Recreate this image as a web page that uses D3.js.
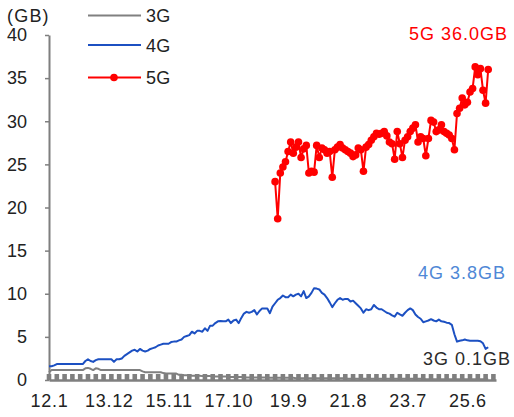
<!DOCTYPE html>
<html>
<head>
<meta charset="utf-8">
<script src="https://cdn.jsdelivr.net/npm/d3@7"></script>
<style>
  html, body { margin: 0; padding: 0; background: #fff; }
  svg { display: block; font-family: "Liberation Sans", Arial, sans-serif; }
</style>
</head>
<body>
<svg id="chart" width="514" height="417"></svg>
<script>
// Monthly mobile data usage per subscriber (GB), from 2012.1
const startMonth = "12.1";
const xTickLabels = ["12.1", "13.12", "15.11", "17.10", "19.9", "21.8", "23.7", "25.6"];
const yTicks = [0, 5, 10, 15, 20, 25, 30, 35, 40];
const seriesNames = ["3G", "4G", "5G"];

const usage3G = [
  0.9, 1.15, 1.15, 1.15, 1.15, 1.15, 1.15, 1.15, 1.15, 1.15,
  1.15, 1.15, 1.15, 1.15, 1.35, 1.4, 1.3, 1.15, 1.35, 1.3,
  1.15, 1.15, 1.15, 1.15, 1.15, 1.15, 1.15, 1.15, 1.15, 1.15,
  1.15, 1.15, 1.15, 1.15, 1.15, 1.15, 1.0, 0.9, 0.9, 0.9,
  0.9, 0.9, 0.9, 0.9, 0.8, 0.75, 0.75, 0.75, 0.75, 0.75,
  0.6, 0.6, 0.55, 0.55, 0.55, 0.5, 0.5, 0.5, 0.5, 0.45,
  0.45, 0.45, 0.45, 0.4, 0.4, 0.4, 0.4, 0.4, 0.4, 0.35,
  0.35, 0.35, 0.35, 0.35, 0.35, 0.35, 0.3, 0.3, 0.3, 0.3,
  0.3, 0.3, 0.3, 0.3, 0.3, 0.25, 0.25, 0.25, 0.25, 0.25,
  0.25, 0.25, 0.25, 0.25, 0.25, 0.2, 0.2, 0.2, 0.2, 0.2,
  0.2, 0.2, 0.2, 0.2, 0.2, 0.2, 0.2, 0.2, 0.2, 0.2,
  0.2, 0.2, 0.2, 0.2, 0.2, 0.15, 0.15, 0.15, 0.15, 0.15,
  0.15, 0.15, 0.15, 0.15, 0.15, 0.15, 0.15, 0.15, 0.15, 0.15,
  0.15, 0.15, 0.15, 0.15, 0.15, 0.15, 0.15, 0.15, 0.15, 0.15,
  0.15, 0.15, 0.15, 0.15, 0.15, 0.1, 0.1, 0.1, 0.1, 0.1,
  0.1, 0.1, 0.1, 0.1, 0.1, 0.1, 0.1, 0.1, 0.1, 0.1,
  0.1, 0.1, 0.1, 0.1, 0.1, 0.1, 0.1, 0.1, 0.1, 0.1
];

const usage4G = [
  1.6, 1.6, 1.7, 1.85, 1.85, 1.85, 1.85, 1.85, 1.85, 1.85,
  1.85, 1.85, 1.85, 1.85, 2.2, 2.4, 2.2, 2.1, 2.3, 2.4,
  2.4, 2.4, 2.4, 2.4, 2.4, 2.1, 2.4, 2.4, 2.5, 2.8,
  3.0, 3.2, 3.4, 3.5, 3.3, 3.6, 3.4, 3.3, 3.4, 3.6,
  3.7, 3.8, 4.0, 4.1, 4.2, 4.2, 4.2, 4.4, 4.45, 4.45,
  4.6, 4.7, 5.0, 5.1, 5.2, 5.6, 5.4, 5.7, 5.7, 5.6,
  6.0, 5.7, 6.3, 6.3, 6.6, 6.8, 6.85, 6.8, 6.8, 7.0,
  6.6, 6.9, 7.0, 6.6, 7.2, 7.7, 7.9, 7.8, 7.9, 8.1,
  7.6, 8.0, 8.3, 8.3, 8.3, 7.75, 8.5, 8.9, 9.3, 9.5,
  9.8, 9.6, 9.6, 9.9, 9.7, 9.9, 10.0, 9.7, 10.3, 9.5,
  9.7, 10.1, 10.65, 10.6, 10.5, 10.1, 9.9, 9.5, 9.0, 8.45,
  8.9, 9.3, 9.5, 9.3, 9.4, 9.4, 9.1, 9.2, 8.9, 8.6,
  8.3, 7.8, 8.2, 8.1, 8.2, 8.7, 8.4, 8.2, 8.2, 8.0,
  7.8, 7.7, 7.5, 7.35, 7.8, 7.6, 7.45, 7.8, 8.1, 8.3,
  8.1, 7.6, 7.3, 7.1, 6.7, 6.8, 6.9, 7.05, 6.9, 6.8,
  7.0, 6.8, 6.75, 6.65, 6.6, 6.4, 5.3, 4.45, 4.55, 4.6,
  4.7, 4.6, 4.55, 4.55, 4.55, 4.55, 4.5, 4.25, 3.6, 3.8
];

// 5G begins in 2019.4
const start5G = "19.4";
const usage5G = [
  23.0, 18.7, 24.0, 24.7, 25.3, 26.5, 27.6, 26.3, 27.0, 27.6,
  25.8, 26.8, 27.2, 24.0, 24.2, 24.1, 27.2, 25.8, 26.9, 26.7,
  26.3, 26.5, 23.5, 26.7, 27.0, 27.3, 26.9, 26.7, 26.5, 26.3,
  25.9, 26.1, 26.9, 26.7, 24.2, 27.0, 27.3, 27.8, 28.2, 28.6,
  28.5, 28.6, 28.8, 28.3, 27.6, 27.4, 25.6, 28.8, 27.4, 25.8,
  27.8, 28.2, 28.8, 29.2, 29.6, 27.6, 28.2, 28.0, 26.0, 28.0,
  30.1, 29.9, 28.8, 29.0, 29.6, 28.8, 28.6, 28.4, 28.0, 26.7,
  30.9, 31.5, 32.7, 31.9, 32.2, 33.4, 33.8, 36.3, 35.4, 36.1,
  33.6, 32.1, 36.0
];

const colors = { "3G": "#808080", "4G": "#1c50c2", "5G": "#ff0000" };
const labelColors = { "3G": "#2b2b2b", "4G": "#4f88d6", "5G": "#ff0000" };

// "yy.m" -> months since the first month of the series
function monthIndex(label) {
  const [yy, m] = label.split(".").map(Number);
  const [y0, m0] = startMonth.split(".").map(Number);
  return (yy - y0) * 12 + (m - m0);
}

const svg = d3.select("#chart");
const axisColor = "#7f7f7f";
const textColor = "#222222";
const fontSize = 18;

const nMonths = usage4G.length;
const x = d3.scaleLinear().domain([0, nMonths + 2]).range([49, 496]);
const y = d3.scaleLinear().domain([0, 40]).range([380, 35]);

const seriesData = {
  "3G": usage3G.map((v, i) => ({ i, v })),
  "4G": usage4G.map((v, i) => ({ i, v })),
  "5G": usage5G.map((v, k) => ({ i: monthIndex(start5G) + k, v }))
};

// Minor (quarterly) tick marks standing on the x axis
const minorTicks = d3.range(0, nMonths + 2, 3);
svg.append("g")
  .selectAll("line")
  .data(minorTicks)
  .join("line")
  .attr("x1", d => x(d)).attr("x2", d => x(d))
  .attr("y1", y(0)).attr("y2", y(0) - 6)
  .attr("stroke", axisColor)
  .attr("stroke-width", 4.6);

// y axis
const yAxis = svg.append("g")
  .attr("transform", `translate(${x(0)},0)`)
  .call(d3.axisLeft(y).tickValues(yTicks).tickSize(4).tickPadding(18).tickSizeOuter(0));
yAxis.select(".domain").attr("stroke", axisColor).attr("stroke-width", 2);
yAxis.selectAll(".tick line").attr("stroke", axisColor).attr("stroke-width", 1.5);
yAxis.selectAll(".tick text")
  .attr("fill", textColor)
  .style("font-size", fontSize + "px")
  .style("font-family", "'Liberation Sans', Arial, sans-serif");

// x axis
const xAxis = svg.append("g")
  .attr("transform", `translate(0,${y(0)})`)
  .call(d3.axisBottom(x)
    .tickValues(xTickLabels.map(monthIndex))
    .tickFormat((d, k) => xTickLabels[k])
    .tickSize(0).tickPadding(14));
xAxis.select(".domain").attr("stroke", axisColor).attr("stroke-width", 2.5);
xAxis.selectAll(".tick text")
  .attr("fill", textColor)
  .style("font-size", fontSize + "px")
  .style("font-family", "'Liberation Sans', Arial, sans-serif")
  .attr("letter-spacing", "0.7px");

// unit label
svg.append("text")
  .attr("x", 7).attr("y", 22)
  .attr("fill", textColor)
  .attr("letter-spacing", "1.2px")
  .style("font-size", fontSize + "px")
  .text("(GB)");

// series lines
const line = d3.line().x(d => x(d.i)).y(d => y(d.v));
seriesNames.forEach(name => {
  svg.append("path")
    .datum(seriesData[name])
    .attr("fill", "none")
    .attr("stroke", colors[name])
    .attr("stroke-width", 2)
    .attr("stroke-linejoin", "round")
    .attr("d", line);
});

// 5G markers
svg.append("g")
  .selectAll("circle")
  .data(seriesData["5G"])
  .join("circle")
  .attr("cx", d => x(d.i))
  .attr("cy", d => y(d.v))
  .attr("r", 3.8)
  .attr("fill", colors["5G"]);

// legend
const legend = svg.append("g");
seriesNames.forEach((name, k) => {
  const ly = [15.5, 45, 77.5][k];
  legend.append("line")
    .attr("x1", 88).attr("x2", 141)
    .attr("y1", ly).attr("y2", ly)
    .attr("stroke", colors[name]).attr("stroke-width", 2);
  if (name === "5G") {
    legend.append("circle").attr("cx", 114).attr("cy", ly).attr("r", 3.8).attr("fill", colors[name]);
  }
  legend.append("text")
    .attr("x", 146).attr("y", ly + 6.5)
    .attr("fill", textColor)
    .attr("letter-spacing", "0.3px")
    .style("font-size", fontSize + "px")
    .text(name);
});

// latest-value labels
const lastOf = name => seriesData[name][seriesData[name].length - 1].v;
const endLabels = [
  { name: "5G", ty: 39.5, tx: 508 },
  { name: "4G", ty: 278.5, tx: 506 },
  { name: "3G", ty: 364.5, tx: 511 }
];
endLabels.forEach(l => {
  svg.append("text")
    .attr("x", l.tx).attr("y", l.ty)
    .attr("text-anchor", "end")
    .attr("fill", labelColors[l.name])
    .attr("letter-spacing", "1px")
    .style("font-size", fontSize + "px")
    .text(`${l.name} ${lastOf(l.name).toFixed(1)}GB`);
});
</script>
</body>
</html>
